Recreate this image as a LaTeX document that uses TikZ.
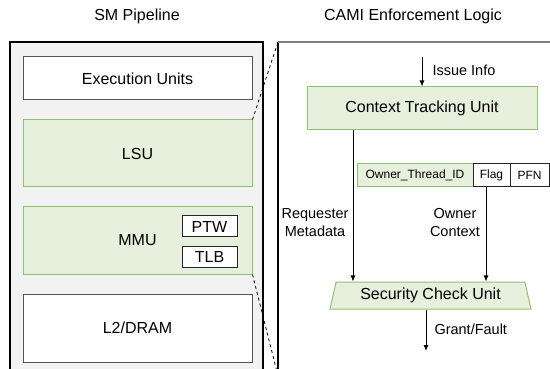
\documentclass[tikz,border=0pt]{standalone}
\usepackage{fontspec}
\setmainfont{Liberation Sans}
\usetikzlibrary{shapes.geometric,arrows.meta}
\definecolor{panelgray}{HTML}{F2F2F2}
\definecolor{boxgray}{HTML}{555555}
\definecolor{unitgreen}{HTML}{8FC072}
\definecolor{lightgreen}{HTML}{E6F0DC}
\begin{document}
\begin{tikzpicture}[x=1pt,y=-1pt,line width=1pt,
      unit node/.style={draw=boxgray,fill=white,inner sep=0pt,minimum width=229pt,font=\fontsize{16}{19}\selectfont},
      green node/.style={unit node,draw=unitgreen,fill=lightgreen},
      small node/.style={draw=black!85,fill=white,inner sep=0pt,minimum width=55pt,minimum height=21pt,font=\fontsize{16}{19}\selectfont},
      cell node/.style={draw=black!85,fill=white,inner sep=0pt,minimum height=23pt,font=\fontsize{12}{14}\selectfont},
      lbl/.style={font=\fontsize{14.5}{18}\selectfont,inner sep=0pt,align=center},
      flow/.style={-{Latex[length=6pt,width=5pt]},line width=0.9pt}]
  \useasboundingbox (0,0) rectangle (550,369);
  % panels
  \fill[panelgray] (10,42) rectangle (263,380);
  \draw[line width=1.2pt] (10,380) -- (10,42) -- (263,42) -- (263,380);
  \draw[line width=1.2pt] (278,380) -- (278,42);
  \draw[gray,line width=2pt] (278,42) -- (556,42);
  \node[font=\fontsize{16}{19}\selectfont] (smt) at (137,16) {SM Pipeline};
  \node[font=\fontsize{16}{19}\selectfont] (camit) at (413,16) {CAMI Enforcement Logic};
  % SM pipeline
  \node[unit node,minimum height=43pt] (eu) at (137.5,78.5) {Execution Units};
  \node[green node,minimum height=67pt] (lsu) at (137.5,153.5) {LSU};
  \node[green node,minimum height=67pt] (mmu) at (137.5,240.5) {MMU};
  \node[small node] (ptw) at (209.5,226.5) {PTW};
  \node[small node] (tlb) at (209.5,256.5) {TLB};
  \node[unit node,minimum height=68pt] (l2) at (137.5,328) {L2/DRAM};
  \coordinate (zt) at (278,42);
  \coordinate (zb) at (277,372);
  \path[draw,dashed,line width=0.8pt]
    (lsu.north east) -- (zt)
    (mmu.south east) -- (zb);
  % CAMI logic
  \coordinate (iss) at (422,57);
  \node[green node,minimum width=230pt,minimum height=43pt] (ctu) at (422,108.5) {Context Tracking Unit};
  \node[cell node,fill=lightgreen,draw=unitgreen,minimum width=116pt] (oid) at (415,175.5) {Owner\_Thread\_ID};
  \node[cell node,minimum width=37pt] (flag) at (491.5,175.5) {Flag};
  \node[cell node,minimum width=39pt] (pfn) at (529.5,175.5) {PFN};
  \node[trapezium,trapezium left angle=73,trapezium right angle=73,trapezium stretches=true,
        draw=unitgreen,fill=lightgreen,inner sep=0pt,minimum width=201pt,minimum height=27pt,
        font=\fontsize{16}{19}\selectfont] (scu) at (430.5,295.5) {Security Check Unit};
  \coordinate (rq) at (353,0);
  \coordinate (ow) at (486,0);
  \coordinate (gf) at (426,351);
  \node[lbl,anchor=west] (issl) at (432,70) {Issue Info};
  \node[lbl] (rql) at (315,223) {Requester\\Metadata};
  \node[lbl] (owl) at (455,223) {Owner\\Context};
  \node[lbl,anchor=west] (gfl) at (434,329) {Grant/Fault};
  \draw[flow] (iss) -- (ctu.north);
  \draw[flow] (ctu.south -| rq) -- (scu.north -| rq);
  \draw[flow] (flag.south -| ow) -- (scu.north -| ow);
  \draw[flow] (scu.south -| gf) -- (gf);
\end{tikzpicture}
\end{document}
